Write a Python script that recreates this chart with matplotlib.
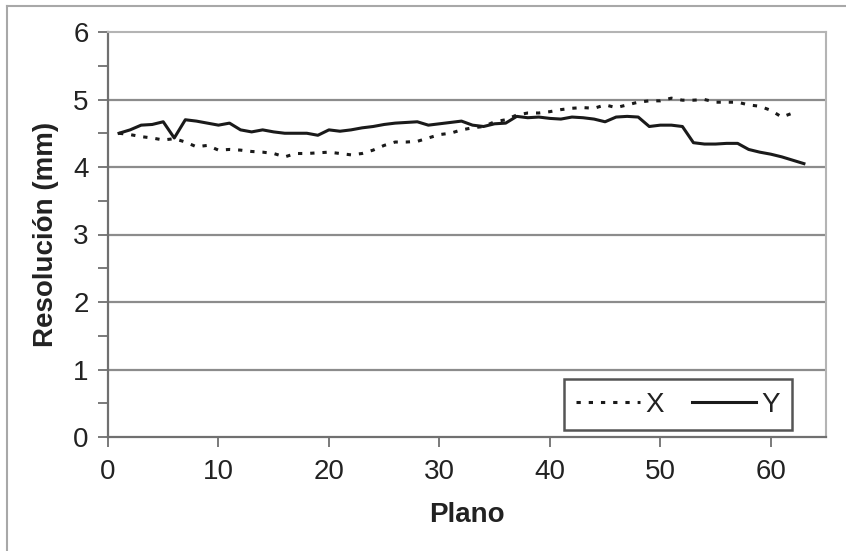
import numpy as np
import matplotlib
matplotlib.use("Agg")
import matplotlib.pyplot as plt
from matplotlib.ticker import MultipleLocator

plt.rcParams['font.family'] = ['Liberation Sans', 'DejaVu Sans']

# plane number and resolution (mm)
plano_y = list(range(1, 64))
res_y = [4.50, 4.55, 4.62, 4.63, 4.67, 4.43, 4.70, 4.68, 4.65, 4.62,
         4.65, 4.55, 4.52, 4.55, 4.52, 4.50, 4.50, 4.50, 4.47, 4.55,
         4.53, 4.55, 4.58, 4.60, 4.63, 4.65, 4.66, 4.67, 4.62, 4.64,
         4.66, 4.68, 4.62, 4.60, 4.64, 4.65, 4.75, 4.73, 4.74, 4.72,
         4.71, 4.74, 4.73, 4.71, 4.67, 4.74, 4.75, 4.74, 4.60, 4.62,
         4.62, 4.60, 4.36, 4.34, 4.34, 4.35, 4.35, 4.26, 4.22, 4.19,
         4.15, 4.10, 4.05]

plano_x = list(range(1, 63))
res_x = [4.50, 4.48, 4.45, 4.43, 4.40, 4.42, 4.37, 4.30, 4.32, 4.25,
         4.26, 4.25, 4.23, 4.22, 4.20, 4.15, 4.20, 4.20, 4.21, 4.22,
         4.20, 4.18, 4.20, 4.25, 4.32, 4.37, 4.37, 4.38, 4.43, 4.48,
         4.50, 4.55, 4.58, 4.60, 4.67, 4.70, 4.77, 4.80, 4.80, 4.82,
         4.85, 4.87, 4.88, 4.87, 4.92, 4.88, 4.92, 4.96, 4.98, 4.98,
         5.02, 4.99, 4.99, 5.00, 4.96, 4.96, 4.96, 4.92, 4.90, 4.84,
         4.74, 4.80]

fig = plt.figure(figsize=(8.46, 5.51), dpi=100)
ax = fig.add_axes([108/846, 1 - 437/551, (826 - 108)/846, (437 - 32)/551])

# outer frame of the picture (top and left only)
fig.add_artist(plt.Line2D([7/846, 1], [1 - 6/551, 1 - 6/551], color='#a8a8a8', lw=1.5, transform=fig.transFigure))
fig.add_artist(plt.Line2D([7/846, 7/846], [0, 1 - 6/551], color='#a8a8a8', lw=1.5, transform=fig.transFigure))

for v in range(1, 6):
    ax.axhline(v, color='#8c8c8c', lw=1.6, zorder=1)

ax.plot(plano_x, res_x, color='#1a1a1a', lw=2.2, linestyle=(0, (1.4, 2.6)), label='X', zorder=3)
ax.plot(plano_y, res_y, color='#1a1a1a', lw=2.2, label='Y', zorder=3)

ax.set_xlim(0, 65)
ax.set_ylim(0, 6)
ax.xaxis.set_major_locator(MultipleLocator(10))
ax.yaxis.set_major_locator(MultipleLocator(1))
ax.yaxis.set_minor_locator(MultipleLocator(0.5))

ax.tick_params(axis='both', which='both', direction='out', length=7, width=1.3,
               color='#707070', labelsize=20, labelcolor='#222222')
ax.tick_params(axis='x', pad=9)
ax.tick_params(axis='y', pad=7)

for s in ['left', 'bottom']:
    ax.spines[s].set_color('#707070')
    ax.spines[s].set_linewidth(1.6)
for s in ['top', 'right']:
    ax.spines[s].set_color('#b4b4b4')
    ax.spines[s].set_linewidth(1.5)

ax.set_xlabel('Plano', fontsize=20, fontweight='bold', color='#222222', labelpad=12)
ax.set_ylabel('Resolución (mm)', fontsize=20, fontweight='bold', color='#222222', labelpad=10)

leg = ax.legend(loc='lower right', bbox_to_anchor=(0.953, 0.017), borderaxespad=0,
                ncol=2, fontsize=20, handlelength=2.3, columnspacing=1.0,
                fancybox=False, framealpha=1, edgecolor='#555555', handletextpad=0.2,
                borderpad=0.45)
leg.get_frame().set_linewidth(1.8)
for t in leg.get_texts():
    t.set_color('#222222')

fig.savefig('out.png', dpi=100)
